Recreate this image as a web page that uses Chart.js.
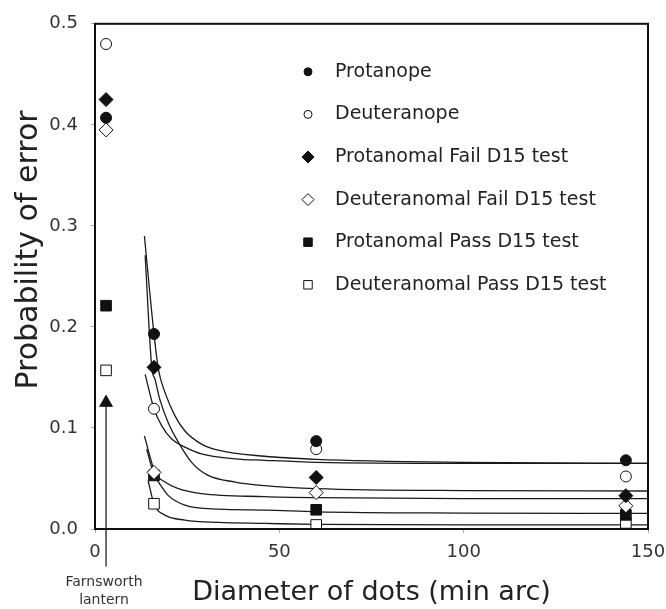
<!DOCTYPE html>
<html>
<head>
<meta charset="utf-8">
<script src="https://cdn.jsdelivr.net/npm/chart.js@4.4.1/dist/chart.umd.min.js"></script>
<style>
  html, body { margin: 0; padding: 0; background: #fff; }
  #wrap { width: 666px; height: 609px; }
</style>
</head>
<body>
<div id="wrap"><canvas id="myChart"></canvas></div>
<script>
// dot diameters (min arc) - the lantern results sit just right of 0
const dotSizes = [3, 16, 60, 144];

// measured probability of error per group
const protanope = [0.407, 0.193, 0.087, 0.068];
const deuteranope = [0.480, 0.119, 0.079, 0.052];
const protanomalFail = [0.425, 0.160, 0.051, 0.033];
const deuteranomalFail = [0.395, 0.056, 0.036, 0.023];
const protanomalPass = [0.221, 0.053, 0.019, 0.014];
const deuteranomalPass = [0.157, 0.025, 0.004, 0.006];

// fitted curves as [diameter, probability]
const protanopeFit = [[13.4, 0.290], [16, 0.193], [17.2, 0.158], [19, 0.135], [21.7, 0.112], [24.4, 0.097], [28.9, 0.084], [33.4, 0.078], [46, 0.072], [60, 0.069], [100, 0.066], [150, 0.065]];
const protanomalFailFit = [[13.6, 0.271], [15.4, 0.160], [16.3, 0.148], [17.6, 0.128], [19.9, 0.105], [22.6, 0.086], [26.2, 0.066], [30.7, 0.053], [38, 0.0465], [46, 0.043], [60, 0.040], [100, 0.038], [150, 0.0376]];
const deuteranopeFit = [[13.6, 0.153], [16, 0.119], [18.1, 0.102], [20.8, 0.089], [24.4, 0.081], [28.9, 0.0743], [38, 0.0695], [46, 0.068], [60, 0.066], [100, 0.065], [150, 0.065]];
const deuteranomalFailFit = [[13.4, 0.092], [16.3, 0.056], [19, 0.0465], [22.6, 0.040], [28.9, 0.035], [46, 0.032], [60, 0.031], [100, 0.030], [150, 0.030]];
const protanomalPassFit = [[14, 0.079], [16, 0.054], [17.5, 0.045], [19.9, 0.033], [24.4, 0.0236], [33.4, 0.0196], [46, 0.0187], [60, 0.017], [100, 0.0158], [150, 0.0154]];
const deuteranomalPassFit = [[14.4, 0.048], [16, 0.025], [19, 0.0137], [24.4, 0.0088], [33.4, 0.0065], [46, 0.0055], [60, 0.0045], [100, 0.004], [150, 0.004]];

// Farnsworth lantern arrow (triangle tip, then down past the axis)
const lanternArrow = [[3, 0.125], [3, -0.037]];

const xTicks = [0, 50, 100, 150];
const yTicks = [0, 0.1, 0.2, 0.3, 0.4, 0.5];

const toXY = (pairs) => pairs.map(([x, y]) => ({ x, y }));
const withSizes = (vals) => vals.map((y, i) => ({ x: dotSizes[i], y }));

const FONT = '"DejaVu Sans", Verdana, sans-serif';

function markers(label, vals, style, filled, radius, legendRadius) {
  return {
    label,
    data: withSizes(vals),
    pointStyle: style,
    pointRadius: radius,
    pointBackgroundColor: filled ? '#111' : '#fff',
    pointBorderColor: '#111',
    pointBorderWidth: 1,
    showLine: false,
    legendRadius,
    order: 0,
  };
}

function curve(pairs) {
  return {
    label: '',
    data: toXY(pairs),
    showLine: true,
    pointRadius: 0,
    borderColor: '#1a1a1a',
    borderWidth: 1.3,
    cubicInterpolationMode: 'monotone',
    fill: false,
    order: 1,
  };
}

const markerSets = [
  markers('Protanope', protanope, 'circle', true, 5.5, 4),
  markers('Deuteranope', deuteranope, 'circle', false, 5.5, 4),
  markers('Protanomal Fail D15 test', protanomalFail, 'rectRot', true, 7, 6),
  markers('Deuteranomal Fail D15 test', deuteranomalFail, 'rectRot', false, 7, 6),
  markers('Protanomal Pass D15 test', protanomalPass, 'rect', true, 7.5, 6),
  markers('Deuteranomal Pass D15 test', deuteranomalPass, 'rect', false, 7.5, 6),
];

const curveSets = [protanopeFit, protanomalFailFit, deuteranopeFit, deuteranomalFailFit, protanomalPassFit, deuteranomalPassFit].map(curve);

const arrowSets = [
  {
    label: '',
    data: toXY(lanternArrow),
    showLine: true,
    borderColor: '#111',
    borderWidth: 1.2,
    pointRadius: [7, 0],
    pointStyle: 'triangle',
    pointBackgroundColor: '#111',
    pointBorderColor: '#111',
    clip: false,
    order: 0,
  },
];

// legend drawn inside the plot, plus frame, y title and the lantern caption
const extras = {
  id: 'extras',
  afterDatasetsDraw(chart) {
    const { ctx, chartArea } = chart;
    ctx.save();
    ctx.strokeStyle = '#111';
    ctx.lineWidth = 2;
    ctx.strokeRect(chartArea.left, chartArea.top, chartArea.right - chartArea.left, chartArea.bottom - chartArea.top);

    const x0 = chartArea.left + 213;
    const y0 = chartArea.top + 48;
    const step = 42.6;
    ctx.font = '19px ' + FONT;
    ctx.textBaseline = 'middle';
    ctx.textAlign = 'left';
    markerSets.forEach((ds, i) => {
      const y = y0 + i * step;
      ctx.fillStyle = ds.pointBackgroundColor;
      ctx.strokeStyle = '#111';
      ctx.lineWidth = 1;
      Chart.helpers.drawPoint(ctx, { pointStyle: ds.pointStyle, radius: ds.legendRadius, borderWidth: 1, rotation: 0 }, x0, y);
      ctx.fillStyle = '#222';
      ctx.fillText(ds.label, x0 + 27, y);
    });

    const lx = chart.scales.x.getPixelForValue(lanternArrow[0][0]) - 2;
    ctx.font = '14px ' + FONT;
    ctx.textAlign = 'center';
    ctx.fillStyle = '#333';
    ctx.fillText('Farnsworth', lx, chartArea.bottom + 53);
    ctx.fillText('lantern', lx, chartArea.bottom + 71);

    // y axis title, a bit above the middle as in the original
    ctx.translate(29, 250);
    ctx.rotate(-Math.PI / 2);
    ctx.font = '30px ' + FONT;
    ctx.fillStyle = '#222';
    ctx.fillText('Probability of error', 0, 0);
    ctx.restore();
  },
};

const ctx = document.getElementById('myChart');

new Chart(ctx, {
  type: 'scatter',
  data: { datasets: [...markerSets, ...arrowSets, ...curveSets] },
  options: {
    responsive: true,
    maintainAspectRatio: false,
    animation: false,
    layout: { padding: { top: 20, right: 18, left: 0, bottom: 0 } },
    plugins: {
      legend: { display: false },
      tooltip: { enabled: false },
    },
    scales: {
      x: {
        type: 'linear',
        min: 0,
        max: 150,
        afterBuildTicks: (s) => { s.ticks = xTicks.map((v) => ({ value: v })); },
        afterFit: (s) => { s.height = 80; s.paddingRight = 0; s.paddingLeft = 0; },
        grid: { drawOnChartArea: false, tickLength: 4, color: '#aaa' },
        border: { color: '#111', width: 2 },
        ticks: { color: '#333', font: { family: FONT, size: 18 }, padding: 9, maxRotation: 0 },
        title: {
          display: true,
          text: 'Diameter of dots (min arc)',
          color: '#222',
          font: { family: FONT, size: 27 },
          padding: { top: 0, bottom: 0 },
        },
      },
      y: {
        min: 0,
        max: 0.5,
        afterBuildTicks: (s) => { s.ticks = yTicks.map((v) => ({ value: v })); },
        afterFit: (s) => { s.width = 95; },
        grid: { drawOnChartArea: false, tickLength: 4, color: '#aaa' },
        border: { color: '#111', width: 2 },
        ticks: {
          color: '#333',
          font: { family: FONT, size: 18 },
          padding: 13,
          callback: (v) => Number(v).toFixed(1),
        },
      },
    },
  },
  plugins: [extras],
});
</script>
</body>
</html>
